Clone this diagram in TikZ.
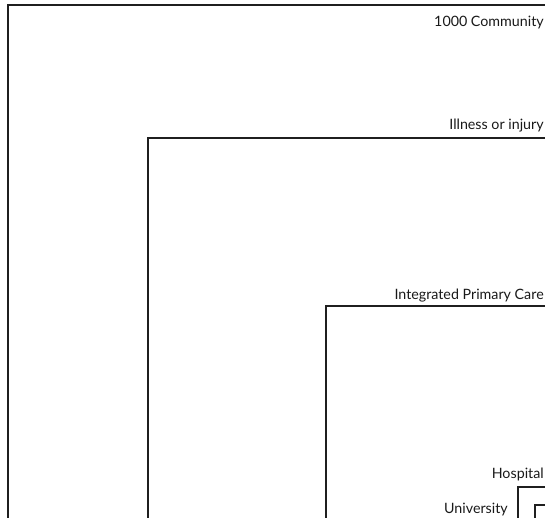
\documentclass[tikz,border=0pt]{standalone}
\usepackage{fontspec}
\setmainfont{Lato}
\usepackage{tikz}
\usetikzlibrary{positioning}

\begin{document}
\begin{tikzpicture}[
    x=0.75pt, y=-0.75pt,
    frame/.style={line width=1.5pt, draw=black!88},
    tag/.style={anchor=base east, inner sep=0pt, font=\fontsize{10.7}{12}\selectfont, text=black!90}
]
    \useasboundingbox (0,0) rectangle (545,517);
    \clip (0,0) rectangle (545,517);

    % nested frames, each corner at top left, running off the page
    \foreach \cx/\cy/\nm in {8/5/community, 148/138/illness, 326/306/primary, 518/487/hospital, 535/505/university} {
        \coordinate (\nm) at (\cx,\cy);
        \draw[frame] (\cx,540) |- (560,\cy);
    }

    \node[tag] (communitytag) at (544,27) {1000 Community};
    \node[tag] (illnesstag) at (544,129) {Illness or injury};
    \node[tag] (primarytag) at (544,299) {Integrated Primary Care};
    \node[tag] (hospitaltag) at (544,478) {Hospital};
    \node[tag] (universitytag) at (508,513) {University};

\end{tikzpicture}
\end{document}
